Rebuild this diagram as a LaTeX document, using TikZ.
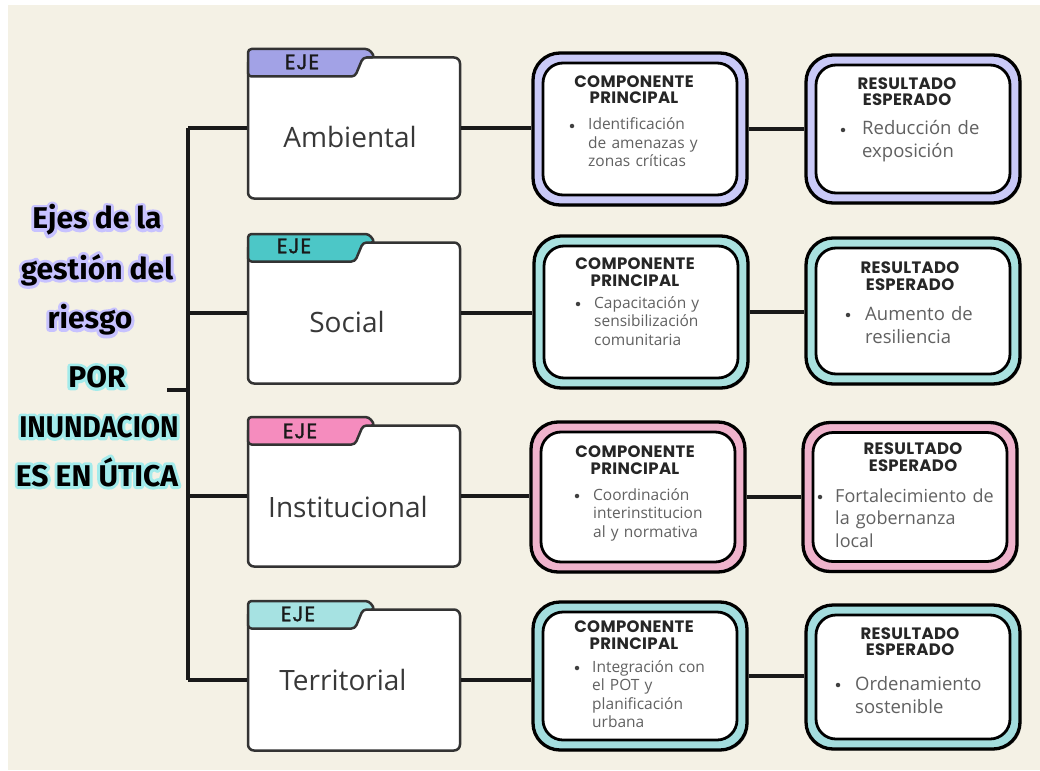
\documentclass[tikz,border=0pt]{standalone}
\usepackage{fontspec}
\usepackage{graphicx}
\usetikzlibrary{calc,shadows}
\newfontfamily\bodyfont{Open Sans}
\newfontfamily\headfont{Poppins}[LetterSpace=2]
\newfontfamily\tabfont{Poppins}[LetterSpace=4,FakeBold=1.3]
\newfontfamily\firafont{Fira Sans}
\definecolor{cream}{HTML}{F4F1E5}
\definecolor{tabA}{HTML}{A2A2E6}
\definecolor{tabB}{HTML}{4CC7C7}
\definecolor{tabC}{HTML}{F58CBE}
\definecolor{tabD}{HTML}{A6E2E2}
\definecolor{bandA}{HTML}{C9C9F7}
\definecolor{bandB}{HTML}{A9E1DF}
\definecolor{bandC}{HTML}{EFB3CC}
\definecolor{bandD}{HTML}{A3DDDE}

% halo behind a title line: the glyph outlines are stroked wide in a soft colour
\newcommand{\halo}[2]{%
  \special{pdf:code 1 Tr 6 w 1 J 1 j #1 RG}#2\special{pdf:code 0 Tr}}

% folder: body node plus coloured tab; #1 name, #2 row y, #3 tab colour
\newcommand{\drawfolder}[3]{%
  \node[folderbody] (#1) at (354,#2) {};
  \filldraw[foldertab, fill=#3]
    (248,{#2-51.5}) -- (248,{#2-79}) -- (369,{#2-79}) -- (375,{#2-70.5})
    -- (363,{#2-70.5}) -- (355,{#2-51.5}) -- cycle;
}

\begin{document}
\begin{tikzpicture}[x=1pt,y=-1pt,
  conn/.style={line width=3.3pt, draw=black!90},
  folderbody/.style={draw=black!80, line width=2.5pt, fill=white, rounded corners=6pt,
    minimum width=212pt, minimum height=141pt, inner sep=0pt},
  foldertab/.style={draw=black!80, line width=2.5pt, rounded corners=3.5pt, line join=round},
  folderlabel/.style={font=\bodyfont\fontsize{28}{30}\selectfont, text=black!78, inner sep=0pt},
  tablabel/.style={font=\tabfont\fontsize{21}{22}\selectfont, text=black!90, inner sep=0pt},
  outerbox/.style={draw=black, line width=3.3pt, rounded corners=27pt,
    minimum width=214pt, inner sep=0pt,
    drop shadow={opacity=0.35, shadow xshift=1.5pt, shadow yshift=-1.5pt}},
  innerbox/.style={draw=black, line width=2.8pt, fill=white, rounded corners=20pt,
    minimum width=194pt, inner sep=0pt},
  boxhead/.style={font=\headfont\bfseries\fontsize{16.5}{16.5}\selectfont, align=center,
    text=black!85, inner sep=0pt},
  comptext/.style={font=\bodyfont\fontsize{15.5}{18.5}\selectfont, text=black!62,
    text width=150pt, align=left, anchor=base west, inner sep=0pt},
  restext/.style={font=\bodyfont\fontsize{18.5}{23}\selectfont, text=black!62,
    text width=185pt, align=left, anchor=base west, inner sep=0pt},
  bulletdot/.style={circle, fill=black!75, inner sep=0pt, minimum size=4.5pt},
  titletext/.style={font=\firafont\bfseries\fontsize{30}{32}\selectfont, inner sep=0pt},
  titlehalo/.style={titletext, text=white},
]
\useasboundingbox (0,0) rectangle (1040,770);
\fill[white] (0,0) rectangle (1040,770);
\fill[cream] (8,5) rectangle (1040,770);

% title on the left: halo layer, then the black lettering
\node[titlehalo] (hl1) at (97,220) {\halo{0.78 0.76 1}{Ejes de la}};
\node[titlehalo] (hl2) at (97,270) {\halo{0.78 0.76 1}{gestión del}};
\node[titlehalo] (hl3) at (90,320) {\halo{0.78 0.76 1}{riesgo}};
\node[titlehalo] (hl4) at (97,377) {\halo{0.64 0.92 0.92}{POR}};
\node[titlehalo] (hl5) at (99,427) {\halo{0.64 0.92 0.92}{\scalebox{0.93}[1]{INUNDACION}}};
\node[titlehalo] (hl6) at (97,472) {\halo{0.64 0.92 0.92}{ES EN ÚTICA}};
\node[titletext] (tl1) at (97,220) {Ejes de la};
\node[titletext] (tl2) at (97,270) {gestión del};
\node[titletext] (tl3) at (90,320) {riesgo};
\node[titletext] (tl4) at (97,377) {POR};
\node[titletext] (tl5) at (99,427) {\scalebox{0.93}[1]{INUNDACION}};
\node[titletext] (tl6) at (97,472) {ES EN ÚTICA};

% trunk and branches
\coordinate (t1) at (188,128);
\coordinate (t2) at (188,313);
\coordinate (t3) at (188,496);
\coordinate (t4) at (188,680);
\coordinate (ts) at (188,390);
\coordinate (ts0) at (167,390);
\draw[conn] (t1) -- (t4);
\draw[conn] (ts0) -- (ts);

% folders
\drawfolder{f1}{128}{tabA}
\drawfolder{f2}{313}{tabB}
\drawfolder{f3}{496}{tabC}
\drawfolder{f4}{680}{tabD}
\node[tablabel] (e1) at (302,62) {EJE};
\node[tablabel] (e2) at (294,246) {EJE};
\node[tablabel] (e3) at (300,431) {EJE};
\node[tablabel] (e4) at (298,614) {EJE};
\node[folderlabel] (l1) at (350,137) {Ambiental};
\node[folderlabel] (l2) at (347,322) {Social};
\node[folderlabel] (l3) at (348,507) {Institucional};
\node[folderlabel] (l4) at (343,680) {Territorial};

\draw[conn] (t1) -- (f1.west);
\draw[conn] (t2) -- (f2.west);
\draw[conn] (t3) -- (f3.west);
\draw[conn] (t4) -- (f4.west);

% component boxes
\node[outerbox, fill=bandA, minimum height=152pt] (c1) at (640,129) {};
\node[innerbox, minimum height=132pt] (c1i) at (c1) {};
\node[outerbox, fill=bandB, minimum height=152pt] (c2) at (641,312) {};
\node[innerbox, minimum height=132pt] (c2i) at (c2) {};
\node[outerbox, fill=bandC, minimum height=150pt] (c3) at (638,497) {};
\node[innerbox, minimum height=130pt] (c3i) at (c3) {};
\node[outerbox, fill=bandD, minimum height=148pt] (c4) at (640,676) {};
\node[innerbox, minimum height=128pt] (c4i) at (c4) {};

% result boxes
\node[outerbox, fill=bandA, minimum height=148pt] (r1) at (913,129) {};
\node[innerbox, minimum height=128pt] (r1i) at (r1) {};
\node[outerbox, fill=bandB, minimum height=146pt] (r2) at (913,311) {};
\node[innerbox, minimum height=126pt] (r2i) at (r2) {};
\node[outerbox, fill=bandC, minimum height=149pt] (r3) at (910,497) {};
\node[innerbox, minimum height=129pt] (r3i) at (r3) {};
\node[outerbox, fill=bandD, minimum height=144pt] (r4) at (913,677) {};
\node[innerbox, minimum height=124pt] (r4i) at (r4) {};

% connectors between columns
\draw[conn] (f1.east) -- (f1.east -| c1.west);
\draw[conn] (f2.east) -- (f2.east -| c2.west);
\draw[conn] (f3.east) -- (f3.east -| c3.west);
\draw[conn] (f4.east) -- (f4.east -| c4.west);
\draw[conn] (c1.east) -- (c1.east -| r1.west);
\draw[conn] (c2.east) -- (c2.east -| r2.west);
\draw[conn] (c3.east) -- (c3.east -| r3.west);
\draw[conn] (c4.east) -- (c4.east -| r4.west);

% component texts
\node[boxhead] (ch1) at (634,89.5) {COMPONENTE\\PRINCIPAL};
\node[bulletdot] (cb1) at (572,126) {};
\node[comptext] (ct1) at (588,130) {Identificación\\de amenazas y\\zonas críticas};

\node[boxhead] (ch2) at (635,272) {COMPONENTE\\PRINCIPAL};
\node[bulletdot] (cb2) at (578,304) {};
\node[comptext] (ct2) at (594,308) {Capacitación y\\sensibilización\\comunitaria};

\node[boxhead] (ch3) at (635,460) {COMPONENTE\\PRINCIPAL};
\node[bulletdot] (cb3) at (577,496) {};
\node[comptext] (ct3) at (593,500) {Coordinación\\interinstitucion\\al y normativa};

\node[boxhead] (ch4) at (634,635) {COMPONENTE\\PRINCIPAL};
\node[bulletdot] (cb4) at (577,668) {};
\node[comptext] (ct4) at (592,672) {Integración con\\el POT y\\planificación\\urbana};

% result texts
\node[boxhead] (rh1) at (907,91.5) {RESULTADO\\ESPERADO};
\node[bulletdot] (rb1) at (843,130) {};
\node[restext] (rt1) at (862,135) {Reducción de\\exposición};

\node[boxhead] (rh2) at (910,276) {RESULTADO\\ESPERADO};
\node[bulletdot] (rb2) at (848,315) {};
\node[restext] (rt2) at (865,320) {Aumento de\\resiliencia};

\node[boxhead] (rh3) at (913,457) {RESULTADO\\ESPERADO};
\node[bulletdot] (rb3) at (820,497) {};
\node[restext, font=\bodyfont\fontsize{18}{22.5}\selectfont] (rt3) at (835,502) {Fortalecimiento de\\la gobernanza\\local};

\node[boxhead] (rh4) at (910,641.5) {RESULTADO\\ESPERADO};
\node[bulletdot] (rb4) at (838,685) {};
\node[restext] (rt4) at (855,690) {Ordenamiento\\sostenible};
\end{tikzpicture}
\end{document}
